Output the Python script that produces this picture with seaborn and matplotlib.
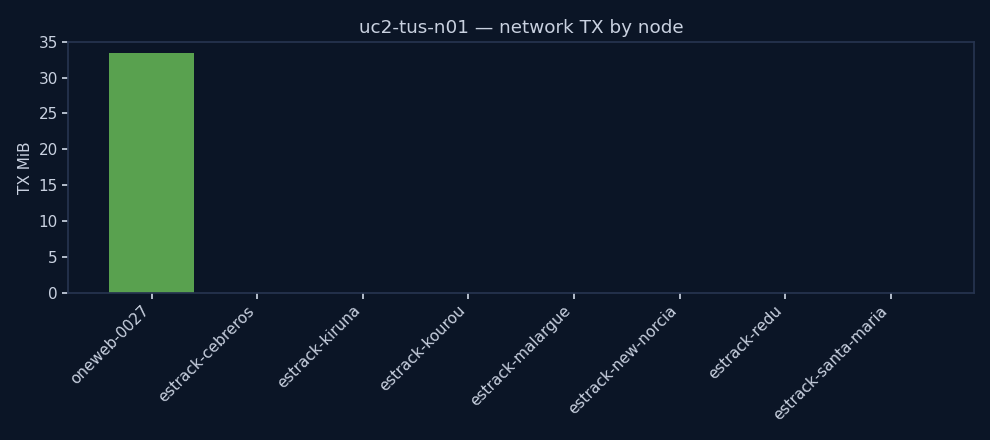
import matplotlib
matplotlib.use("Agg")
import matplotlib.pyplot as plt
import seaborn as sns
import pandas as pd

nodes = ["oneweb-0027", "estrack-cebreros", "estrack-kiruna", "estrack-kourou",
         "estrack-malargue", "estrack-new-norcia", "estrack-redu", "estrack-santa-maria"]
tx_mib = [33.5, 0, 0, 0, 0, 0, 0, 0]

bg = "#0b1526"
txt = "#c9d1e0"
spine = "#26344f"

sns.set_theme(style="dark")
plt.rcParams['font.family'] = ['DejaVu Sans']

df = pd.DataFrame({"node": nodes, "tx": tx_mib})
fig, ax = plt.subplots(figsize=(9.9, 4.4), dpi=100)
fig.patch.set_facecolor(bg)
ax.set_facecolor(bg)
sns.barplot(data=df, x="node", y="tx", color="#59a14f", saturation=1, width=0.8,
            linewidth=0, ax=ax)
ax.set_xlim(-0.79, len(nodes) - 1 + 0.79)
ax.set_ylim(0, 35)
ax.set_title("uc2-tus-n01 — network TX by node", color=txt, fontsize=13.2)
ax.set_xlabel("")
ax.set_ylabel("TX MiB", color=txt, fontsize=11)
ax.tick_params(colors=txt, labelsize=11, length=4, bottom=True, left=True)
plt.setp(ax.get_xticklabels(), rotation=45, ha="right")
for s in ax.spines.values():
    s.set_color(spine)
ax.grid(False)
fig.subplots_adjust(left=0.069, right=0.984, top=0.905, bottom=0.335)
fig.savefig("out.png", facecolor=bg)
